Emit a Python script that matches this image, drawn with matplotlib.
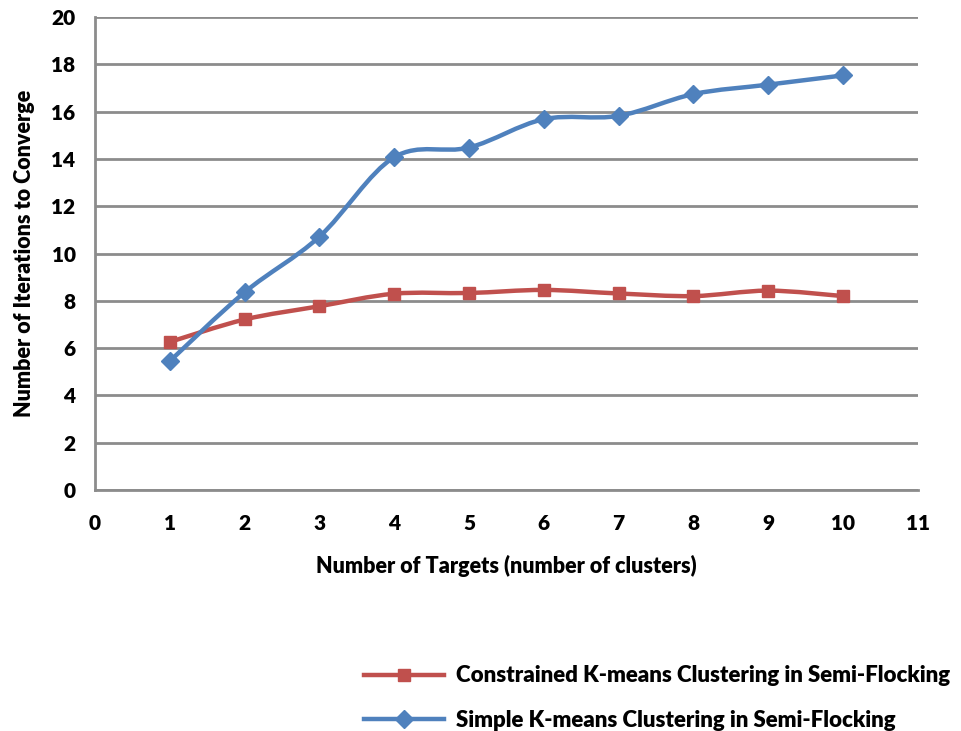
import matplotlib.pyplot as plt
from matplotlib.path import Path
from matplotlib.patches import PathPatch
from matplotlib.lines import Line2D

plt.rcParams['font.family'] = ['Lato', 'DejaVu Sans']
plt.rcParams['font.weight'] = 'heavy'
plt.rcParams['axes.labelweight'] = 'heavy'

targets = [1, 2, 3, 4, 5, 6, 7, 8, 9, 10]
constrained = [6.26, 7.21, 7.77, 8.30, 8.33, 8.46, 8.31, 8.20, 8.43, 8.20]
simple = [5.45, 8.36, 10.71, 14.07, 14.48, 15.68, 15.82, 16.74, 17.14, 17.53]

RED = "#c0504d"
BLUE = "#4f81bd"


def smooth_path(xs, ys):
    # excel style smoothed line: cubic bezier through the points
    pts = list(zip(xs, ys))
    verts = [pts[0]]
    codes = [Path.MOVETO]
    n = len(pts)
    for i in range(n - 1):
        p0 = pts[i - 1] if i > 0 else pts[i]
        p1 = pts[i]
        p2 = pts[i + 1]
        p3 = pts[i + 2] if i + 2 < n else pts[i + 1]
        c1 = (p1[0] + (p2[0] - p0[0]) / 6, p1[1] + (p2[1] - p0[1]) / 6)
        c2 = (p2[0] - (p3[0] - p1[0]) / 6, p2[1] - (p3[1] - p1[1]) / 6)
        verts += [c1, c2, p2]
        codes += [Path.CURVE4] * 3
    return Path(verts, codes)


fig = plt.figure(figsize=(9.61, 7.31), dpi=100)
ax = fig.add_axes([0.0989, 0.3297, 0.856, 0.647])

for ys, col, mk, ms in [(constrained, RED, "s", 8.5), (simple, BLUE, "D", 9.5)]:
    ax.add_patch(PathPatch(smooth_path(targets, ys), fill=False, edgecolor=col,
                           lw=3.2, capstyle="round", joinstyle="round", zorder=3))
    ax.plot(targets, ys, linestyle="none", marker=mk, ms=ms, color=col, zorder=4)

ax.set_xlim(0, 11)
ax.set_ylim(0, 20)
ax.set_xticks(range(0, 12))
ax.set_yticks(range(0, 21, 2))
ax.grid(axis="y", color="#8c8c8c", lw=2)
ax.set_axisbelow(True)
for s in ["top", "right"]:
    ax.spines[s].set_visible(False)
for s in ["left", "bottom"]:
    ax.spines[s].set_color("#8c8c8c")
    ax.spines[s].set_linewidth(2)
ax.tick_params(length=0, labelsize=15, pad=17)
ax.tick_params(axis="y", pad=14)
for lab in ax.get_xticklabels() + ax.get_yticklabels():
    lab.set_fontweight("heavy")
ax.set_xlabel("Number of Targets (number of clusters)", fontsize=15.5,
              fontweight="heavy", labelpad=16)
ax.set_ylabel("Number of Iterations to Converge", fontsize=15.5,
              fontweight="heavy", labelpad=12)

handles = [
    Line2D([], [], color=RED, lw=3.2, marker="s", ms=8),
    Line2D([], [], color=BLUE, lw=3.2, marker="D", ms=9),
]
fig.legend(handles, ["Constrained K-means Clustering in Semi-Flocking",
                     "Simple K-means Clustering in Semi-Flocking"],
           loc="upper left", bbox_to_anchor=(0.370, 0.102), frameon=False,
           prop={"size": 16, "weight": "heavy"}, handlelength=3.6,
           handletextpad=0.5, labelspacing=1.05, borderaxespad=0)

fig.savefig("out.png", dpi=100)
